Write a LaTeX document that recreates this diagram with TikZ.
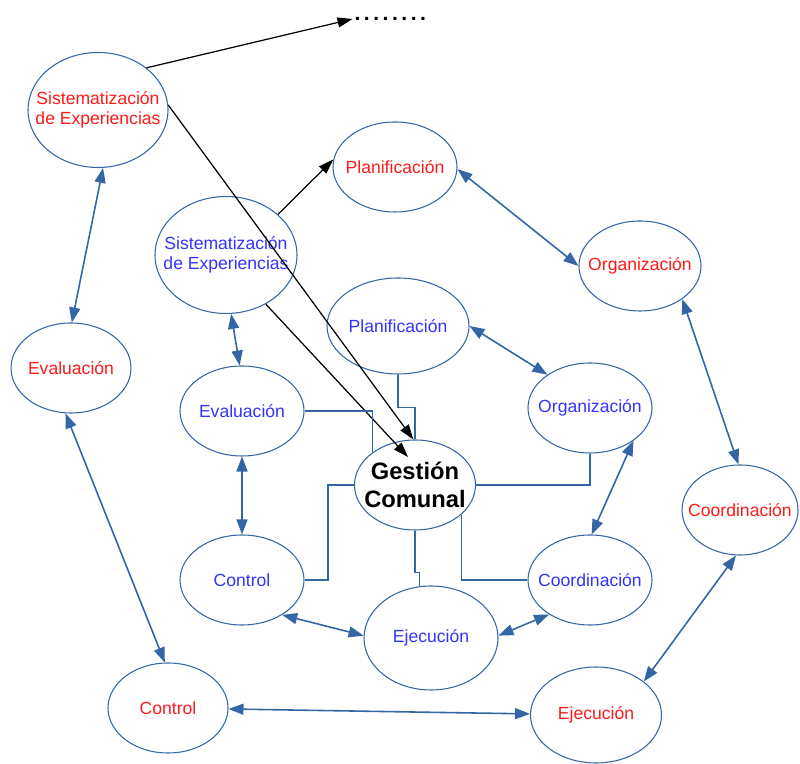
\documentclass[tikz,border=0pt]{standalone}
\usepackage{fontspec}
\setmainfont{Liberation Sans}
\usetikzlibrary{shapes.geometric, arrows.meta, calc}

\definecolor{linkblue}{HTML}{3465A4}
\definecolor{outred}{HTML}{FF1A1A}
\definecolor{inblue}{HTML}{3333FF}

\tikzset{
  bubble/.style={ellipse, draw=linkblue, line width=0.6pt, inner sep=0pt},
  words/.style={align=center, inner sep=0pt, font=\fontsize{10}{11.5}\selectfont},
  outer/.style={bubble, label={[words, text=outred]center:#1}},
  inner/.style={bubble, label={[words, text=inblue]center:#1}},
  both/.style={linkblue, line width=0.9pt, {Triangle[length=0.3cm,width=0.22cm]}-{Triangle[length=0.3cm,width=0.22cm]}},
  link/.style={linkblue, line width=0.6pt},
  push/.style={black, line width=0.7pt, -{Triangle[length=0.3cm,width=0.2cm]}}
}

\begin{document}
\begin{tikzpicture}
\useasboundingbox (0,0) rectangle (16,15.28);

% outer cycle
\node[outer={Sistematización\\de Experiencias}, minimum width=2.8cm, minimum height=2.3cm] (sisB) at (1.96,13.08) {};
\node[outer=Planificación, minimum width=2.48cm, minimum height=1.8cm] (plaB) at (7.9,11.94) {};
\node[outer=Organización, minimum width=2.44cm, minimum height=1.8cm] (orgB) at (12.8,9.96) {};
\node[outer=Coordinación, minimum width=2.32cm, minimum height=1.8cm] (cooB) at (14.8,5.08) {};
\node[outer=Ejecución, minimum width=2.62cm, minimum height=1.92cm] (ejeB) at (11.92,0.98) {};
\node[outer=Control, minimum width=2.4cm, minimum height=1.8cm] (ctlB) at (3.36,1.12) {};
\node[outer=Evaluación, minimum width=2.4cm, minimum height=1.8cm] (evaB) at (1.42,7.92) {};

% inner cycle
\node[inner={Sistematización\\de Experiencias}, minimum width=2.84cm, minimum height=2.34cm] (sisA) at (4.52,10.18) {};
\node[inner=Planificación, minimum width=2.84cm, minimum height=1.92cm] (plaA) at (7.96,8.76) {};
\node[inner=Organización, minimum width=2.48cm, minimum height=1.8cm] (orgA) at (11.8,7.12) {};
\node[inner=Coordinación, minimum width=2.48cm, minimum height=1.8cm] (cooA) at (11.8,3.68) {};
\node[inner=Ejecución, minimum width=2.68cm, minimum height=2.08cm] (ejeA) at (8.62,2.52) {};
\node[inner=Control, minimum width=2.48cm, minimum height=1.8cm] (ctlA) at (4.84,3.68) {};
\node[inner=Evaluación, minimum width=2.48cm, minimum height=1.8cm] (evaA) at (4.84,7.06) {};

\node[bubble, minimum width=2.42cm, minimum height=1.8cm,
      label={[words, font=\fontsize{13.5}{15.5}\selectfont\bfseries]center:Gestión\\Comunal}] (gc) at (8.3,5.58) {};
\coordinate (gcin) at (8.16,6.14);

\node[anchor=west, inner sep=1pt, font=\large\bfseries] (dots) at (7.05,14.9) {.\,.\,.\,.\,.\,.\,.\,.};

% outer arrows
\draw[both] (sisB.-85) -- (evaB.89);
\draw[both] (evaB.-97) -- (ctlB.94);
\draw[both] (ctlB) -- (ejeB);
\draw[both] (ejeB.35) -- (cooB.-95);
\draw[both] (cooB.92) -- (orgB.-38);
\draw[both] (orgB.180) -- (plaB.-2);

% inner arrows
\draw[both, dash pattern=on 0.55cm off 0.06cm] (sisA.-85) -- (evaA.93);
\draw[both] (evaA) -- (ctlA);
\draw[both] (ctlA.-41) -- (ejeA.178);
\draw[both] (ejeA.2) -- (cooA.220);
\draw[both] (cooA.88) -- (orgA.-37);
\draw[both] (plaA.0) -- (orgA.142);

% black arrows
\draw[push] (sisB.41) -- (dots.west);
\draw[push] (sisB.4) -- (gc.92);
\draw[push] (sisA.-51) -- (gcin);
\draw[push] (sisA.38) -- (plaB.173);

% links to the centre
\draw[link] (plaA.south) |- ($(gc.north)+(0,0.64)$) -- (gc.north);
\draw[link] (evaA.east) -| (gc.143);
\draw[link] (ctlA.east) -| ($(gc.west)+(-0.52,0)$) -- (gc.west);
\draw[link] (gc.south) -- ++(0,-0.84) -| (ejeA.103);
\draw[link] (gc.-33) |- (cooA.west);
\draw[link] (gc.east) -| (orgA.south);

\end{tikzpicture}
\end{document}
